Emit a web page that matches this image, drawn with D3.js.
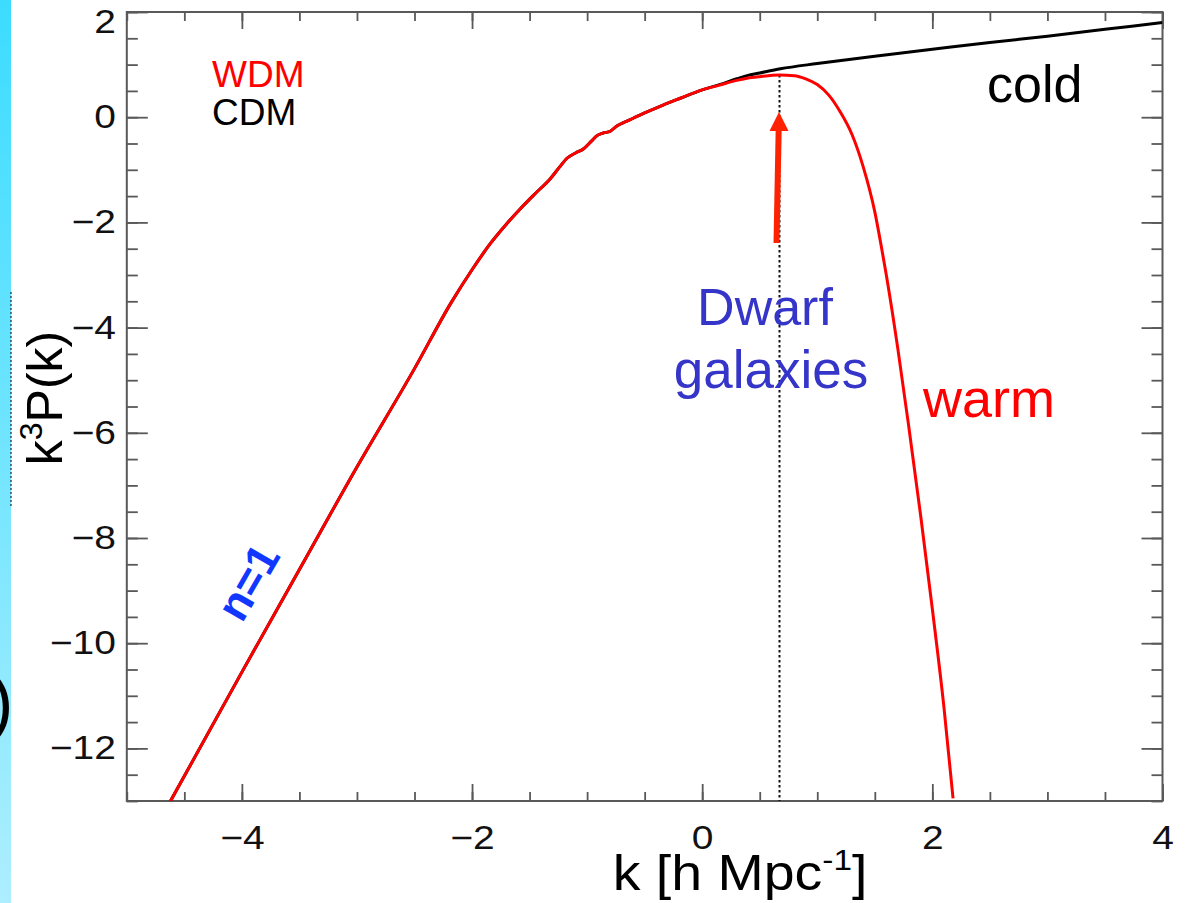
<!DOCTYPE html>
<html>
<head>
<meta charset="utf-8">
<script src="https://cdn.jsdelivr.net/npm/d3@7"></script>
<style>
    body { margin: 0; background: #fff; }
    svg { display: block; font-family: "Liberation Sans", Arial, Helvetica, sans-serif; }
</style>
</head>
<body>
<svg id="chart"></svg>
<script>
/*
Data: k is log10 k, values are log10 k^3 P(k).
 */
var wdmK = [-4.62, -4.0, -3.5, -3.0, -2.5, -2.18, -2.0, -1.84, -1.7, -1.58, -1.45, -1.32, -1.24, -1.175,
    -1.1, -1.03, -0.96, -0.914, -0.86, -0.80, -0.75, -0.71, -0.65, -0.60, -0.5, -0.34, -0.19, 0, 0.15,
    0.3, 0.39, 0.5, 0.67, 0.8, 0.9, 1.0, 1.1, 1.2, 1.3, 1.4, 1.5, 1.56, 1.6, 1.7, 1.79, 1.9, 2.0, 2.1, 2.18];
var wdmVal = [-13.0, -10.55, -8.6, -6.65, -4.78, -3.52, -2.9, -2.4, -2.03, -1.74, -1.45, -1.17, -0.95, -0.78,
    -0.68, -0.6, -0.45, -0.35, -0.3, -0.27, -0.18, -0.13, -0.07, -0.02, 0.08, 0.23, 0.36, 0.52, 0.61,
    0.7, 0.74, 0.77, 0.8, 0.79, 0.73, 0.62, 0.42, 0.1, -0.32, -0.95, -1.8, -2.5, -3.0, -4.4, -5.8, -7.6, -9.35, -11.2, -12.95];

var cdmK = [-4.62, -4.0, -3.5, -3.0, -2.5, -2.18, -2.0, -1.84, -1.7, -1.58, -1.45, -1.32, -1.24, -1.175,
    -1.1, -1.03, -0.96, -0.914, -0.86, -0.80, -0.75, -0.71, -0.65, -0.60, -0.5, -0.34, -0.19, 0, 0.15,
    0.3, 0.39, 0.5, 0.68, 1.0, 1.5, 2.0, 2.5, 3.0, 3.5, 4.0];
var cdmVal = [-13.0, -10.55, -8.6, -6.65, -4.78, -3.52, -2.9, -2.4, -2.03, -1.74, -1.45, -1.17, -0.95, -0.78,
    -0.68, -0.6, -0.45, -0.35, -0.3, -0.27, -0.18, -0.13, -0.07, -0.02, 0.08, 0.23, 0.36, 0.52, 0.62,
    0.73, 0.79, 0.84, 0.92, 1.02, 1.16, 1.29, 1.42, 1.54, 1.67, 1.8];

var xTicks = [-4, -2, 0, 2, 4];
var yTicks = [-12, -10, -8, -6, -4, -2, 0, 2];
var dwarfK = 0.67;        // dotted marker line
var legendNames = ["WDM", "CDM"];

/*
Static constants
 */
const width = 1187;
const height = 903;
const plot = {left: 126.8, right: 1162.5, top: 12, bottom: 801};
const red = "#ff0000";
const axisColor = "#595959";
const tickStretch = 1.18;

var svg = d3.select("#chart")
    .attr("width", width)
    .attr("height", height);

//scales
var x = d3.scaleLinear().domain([-5, 4]).range([plot.left, plot.right]);
var y = d3.scaleLinear().domain([-13, 2]).range([plot.bottom, plot.top]);

//stretch text horizontally, the original labels are wider than Arial
function stretchText(sel, f) {
    sel.each(function() {
        var w = this.getComputedTextLength();
        d3.select(this).attr("textLength", w * f).attr("lengthAdjust", "spacingAndGlyphs");
    });
}

//////////////////////////////////////////
//  Left blue strip (edge of the slide)

var defs = svg.append("defs");
var grad = defs.append("linearGradient")
    .attr("id", "strip")
    .attr("x1", 0).attr("y1", 0).attr("x2", 0).attr("y2", 1);
grad.append("stop").attr("offset", "0%").attr("stop-color", "#3cdcff");
grad.append("stop").attr("offset", "45%").attr("stop-color", "#6ce4ff");
grad.append("stop").attr("offset", "100%").attr("stop-color", "#adeeff");

svg.append("rect")
    .attr("x", 0).attr("y", 0)
    .attr("width", 11).attr("height", height)
    .attr("fill", "url(#strip)");

svg.append("line")
    .attr("x1", 11).attr("x2", 11)
    .attr("y1", 292).attr("y2", 508)
    .attr("stroke", "#222")
    .attr("stroke-width", 1.2)
    .attr("stroke-dasharray", "2,2");

svg.append("text")
    .attr("x", -10)
    .attr("y", 726)
    .attr("font-size", 70)
    .attr("fill", "#000")
    .text(")");

//////////////////////////////////////////
//  Axes (ticks on all four sides, pointing inward)

defs.append("clipPath")
    .attr("id", "plotClip")
    .append("rect")
    .attr("x", plot.left).attr("y", plot.top)
    .attr("width", plot.right - plot.left)
    .attr("height", plot.bottom - plot.top);

var xMinor = d3.range(-5, 4.01, 0.5);
var yMinor = d3.range(-13, 2.01, 0.5);

function styleAxis(g) {
    g.select(".domain").remove();
    g.selectAll(".tick line").attr("stroke", axisColor).attr("stroke-width", 1.8);
    g.selectAll(".tick text")
        .attr("fill", "#111")
        .attr("font-size", 33)
        .attr("font-family", "Liberation Sans, Arial, sans-serif");
}

//bottom
svg.append("g")
    .attr("transform", "translate(0," + plot.bottom + ")")
    .call(d3.axisBottom(x).tickValues(xMinor).tickSize(-9).tickFormat(""))
    .call(styleAxis);
var xAxisG = svg.append("g")
    .attr("transform", "translate(0," + plot.bottom + ")")
    .call(d3.axisBottom(x).tickValues(xTicks).tickSize(-17).tickPadding(25))
    .call(styleAxis);
stretchText(xAxisG.selectAll(".tick text"), tickStretch);

//top
svg.append("g")
    .attr("transform", "translate(0," + plot.top + ")")
    .call(d3.axisTop(x).tickValues(xMinor).tickSize(-9).tickFormat(""))
    .call(styleAxis);
svg.append("g")
    .attr("transform", "translate(0," + plot.top + ")")
    .call(d3.axisTop(x).tickValues(xTicks).tickSize(-17).tickFormat(""))
    .call(styleAxis);

//left
svg.append("g")
    .attr("transform", "translate(" + plot.left + ",0)")
    .call(d3.axisLeft(y).tickValues(yMinor).tickSize(-11).tickFormat(""))
    .call(styleAxis);
var yAxisG = svg.append("g")
    .attr("transform", "translate(" + plot.left + ",0)")
    .call(d3.axisLeft(y).tickValues(yTicks).tickSize(-21).tickPadding(11))
    .call(styleAxis);
stretchText(yAxisG.selectAll(".tick text"), tickStretch);
//the top label sits just inside the picture
yAxisG.selectAll(".tick text")
    .filter(function(d) { return d === 2; })
    .attr("dy", "0.62em");

//right
svg.append("g")
    .attr("transform", "translate(" + plot.right + ",0)")
    .call(d3.axisRight(y).tickValues(yMinor).tickSize(-11).tickFormat(""))
    .call(styleAxis);
svg.append("g")
    .attr("transform", "translate(" + plot.right + ",0)")
    .call(d3.axisRight(y).tickValues(yTicks).tickSize(-21).tickFormat(""))
    .call(styleAxis);

//frame
svg.append("rect")
    .attr("x", plot.left).attr("y", plot.top)
    .attr("width", plot.right - plot.left)
    .attr("height", plot.bottom - plot.top)
    .attr("fill", "none")
    .attr("stroke", axisColor)
    .attr("stroke-width", 2);

//////////////////////////////////////////
//  Curves

var line = d3.line()
    .x(function(d) { return x(d[0]); })
    .y(function(d) { return y(d[1]); })
    .curve(d3.curveMonotoneX);

var curves = svg.append("g").attr("clip-path", "url(#plotClip)");

//dotted line marking the dwarf galaxy scale
var dwarfX = Math.round(x(dwarfK)) + 0.5;
curves.append("line")
    .attr("x1", dwarfX).attr("x2", dwarfX)
    .attr("y1", y(wdmVal[wdmK.indexOf(0.67)]))
    .attr("y2", y(-13))
    .attr("stroke", "#111")
    .attr("stroke-width", 2)
    .attr("stroke-dasharray", "2.5,2.5");

curves.append("path")
    .datum(d3.zip(cdmK, cdmVal))
    .attr("d", line)
    .attr("fill", "none")
    .attr("stroke", "#000")
    .attr("stroke-width", 3);

curves.append("path")
    .datum(d3.zip(wdmK, wdmVal))
    .attr("d", line)
    .attr("fill", "none")
    .attr("stroke", red)
    .attr("stroke-width", 3);

//////////////////////////////////////////
//  Arrow pointing at the cut-off

var arrowColor = "#ff2200";
var ax0 = 776.5, ay0 = 243, ax1 = 779, ay1 = 112;
svg.append("line")
    .attr("x1", ax0).attr("y1", ay0)
    .attr("x2", ax1 - 0.3).attr("y2", ay1 + 16)
    .attr("stroke", arrowColor)
    .attr("stroke-width", 6);
svg.append("path")
    .attr("d", "M" + ax1 + "," + ay1 + " L" + (ax1 + 9.5) + "," + (ay1 + 19) + " L" + (ax1 - 9.5) + "," + (ay1 + 19) + " Z")
    .attr("fill", arrowColor);

//////////////////////////////////////////
//  Labels

var legend = svg.append("g").attr("font-size", 37);
legend.selectAll("text")
    .data(legendNames)
    .enter().append("text")
    .attr("x", 212)
    .attr("y", function(d, i) { return 87 + i * 38; })
    .attr("fill", function(d, i) { return i === 0 ? red : "#000"; })
    .text(function(d) { return d; });

svg.append("text")
    .attr("x", 987)
    .attr("y", 102)
    .attr("font-size", 52)
    .attr("fill", "#000")
    .text("cold");

svg.append("text")
    .attr("x", 923)
    .attr("y", 417)
    .attr("font-size", 54)
    .attr("fill", red)
    .text("warm");

svg.append("text")
    .attr("x", 765)
    .attr("y", 325)
    .attr("text-anchor", "middle")
    .attr("font-size", 52)
    .attr("fill", "#3535c9")
    .text("Dwarf");

svg.append("text")
    .attr("x", 771)
    .attr("y", 388)
    .attr("text-anchor", "middle")
    .attr("font-size", 53)
    .attr("fill", "#3535c9")
    .text("galaxies");

svg.append("text")
    .attr("transform", "translate(248,582) rotate(-60)")
    .attr("text-anchor", "middle")
    .attr("dy", "0.35em")
    .attr("font-size", 45)
    .attr("font-weight", "bold")
    .attr("fill", "#1238ff")
    .text("n=1");

//axis titles
var yTitle = svg.append("text")
    .attr("transform", "translate(62,398) rotate(-90)")
    .attr("text-anchor", "middle")
    .attr("font-size", 50)
    .attr("fill", "#000");
yTitle.append("tspan").text("k");
yTitle.append("tspan").attr("font-size", 32).attr("dy", -20).text("3");
yTitle.append("tspan").attr("dy", 20).text("P(k)");

var xTitle = svg.append("text")
    .attr("transform", "translate(740,890) scale(1.11,1)")
    .attr("text-anchor", "middle")
    .attr("font-size", 50)
    .attr("fill", "#000");
xTitle.append("tspan").text("k [h Mpc");
xTitle.append("tspan").attr("font-size", 30).attr("dy", -20).text("-1");
xTitle.append("tspan").attr("dy", 20).text("]");
</script>
</body>
</html>
